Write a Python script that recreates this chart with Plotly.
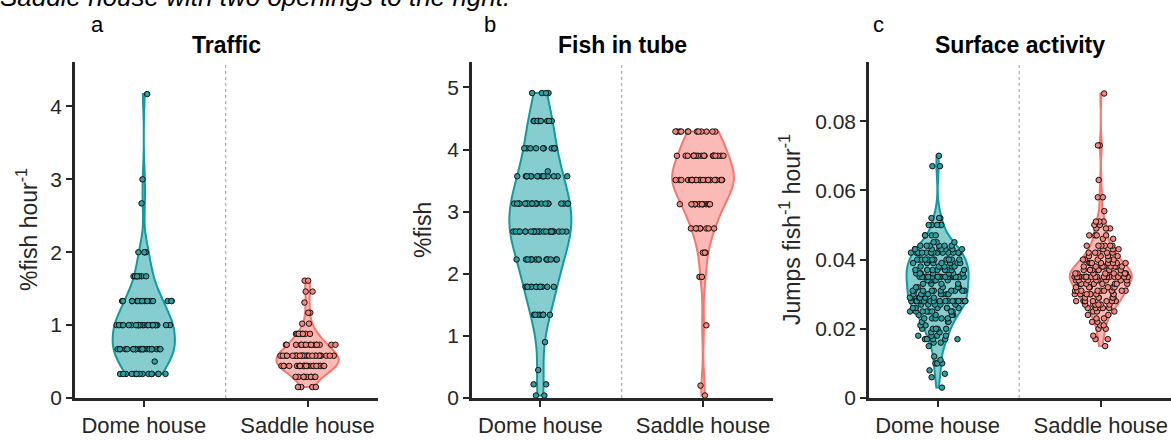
import numpy as np
import plotly.graph_objects as go

categories = ["Dome house", "Saddle house"]

# Traffic (%fish hour^-1): levels and counts
traffic_dome_levels = [0.33, 0.50, 0.67, 1.00, 1.33, 1.67, 2.00, 2.67, 3.00, 4.17]
traffic_dome_counts = [15, 1, 25, 24, 15, 7, 4, 1, 1, 1]
traffic_saddle_levels = [0.15, 0.29, 0.44, 0.58, 0.73, 0.88, 1.02, 1.17, 1.31, 1.46, 1.61]
traffic_saddle_counts = [4, 10, 25, 25, 15, 8, 2, 2, 1, 2, 2]

# Fish in tube (%fish)
tube_dome_levels = [0.04, 0.22, 0.45, 0.90, 1.34, 1.79, 2.23, 2.68, 3.13, 3.57, 3.65, 4.02, 4.46, 4.91]
tube_dome_counts = [2, 2, 1, 1, 7, 12, 15, 25, 22, 15, 1, 10, 10, 4]
tube_saddle_levels = [0.04, 0.20, 1.17, 1.95, 2.34, 2.73, 3.12, 3.51, 3.90, 4.29]
tube_saddle_counts = [1, 1, 1, 2, 3, 8, 15, 25, 18, 12]

# Surface activity (jumps fish^-1 hour^-1)
surf_dome_levels = [0.003, 0.006, 0.007, 0.008, 0.010, 0.011, 0.012, 0.015, 0.016, 0.017,
                    0.018, 0.019, 0.020, 0.021, 0.022, 0.023, 0.024, 0.025, 0.026, 0.027,
                    0.028, 0.029, 0.030, 0.031, 0.032, 0.033, 0.034, 0.035, 0.036, 0.037,
                    0.038, 0.039, 0.040, 0.042, 0.043, 0.044, 0.045, 0.047, 0.050, 0.052,
                    0.067, 0.070]
surf_dome_counts = [1, 1, 1, 1, 3, 1, 1, 1, 2, 5,
                    4, 2, 5, 2, 3, 5, 4, 8, 6, 5,
                    18, 6, 8, 10, 6, 4, 5, 20, 8, 8,
                    6, 8, 12, 15, 8, 6, 3, 4, 5, 3,
                    2, 1]
surf_saddle_levels = [0.015, 0.017, 0.018, 0.020, 0.021, 0.022, 0.023, 0.024, 0.025, 0.026,
                      0.027, 0.028, 0.029, 0.030, 0.031, 0.032, 0.033, 0.034, 0.035, 0.036,
                      0.037, 0.038, 0.039, 0.040, 0.041, 0.042, 0.043, 0.044, 0.046, 0.047,
                      0.049, 0.050, 0.051, 0.054, 0.058, 0.063, 0.073, 0.088]
surf_saddle_counts = [1, 2, 1, 2, 2, 2, 2, 2, 3, 5,
                      6, 8, 6, 8, 10, 6, 8, 8, 20, 10,
                      8, 10, 8, 6, 4, 5, 3, 6, 2, 4,
                      3, 2, 3, 1, 2, 1, 2, 1]

panels = [
    ("Traffic", "%fish hour<sup>-1</sup>", "a",
     (traffic_dome_levels, traffic_dome_counts), (traffic_saddle_levels, traffic_saddle_counts),
     [0, 4.61], 1, (0.2, 0.11)),
    ("Fish in tube", "%fish", "b",
     (tube_dome_levels, tube_dome_counts), (tube_saddle_levels, tube_saddle_counts),
     [0, 5.41], 1, (None, None)),
    ("Surface activity", "Jumps fish<sup>-1</sup> hour<sup>-1</sup>", "c",
     (surf_dome_levels, surf_dome_counts), (surf_saddle_levels, surf_saddle_counts),
     [0, 0.0971], 0.02, (None, None)),
]

W, H = 1171, 440
x_px = [(75, 378), (472, 773), (869, 1171)]
ylab_px = [27, 423, 790]
letter_px = [97, 490, 878]

dome_line = "#0e9ca0"
dome_fill = "rgba(14,156,160,0.5)"
dome_pt = "#2aa0a3"
sad_line = "#f8766d"
sad_fill = "rgba(248,118,109,0.5)"
sad_pt = "#f4877d"
axcol = "#262626"
FONT = "Liberation Sans, Arial, sans-serif"

fig = go.Figure()
annotations = []
shapes = []

for i, (title, ylab, letter, dome, sad, yr, dt, bws) in enumerate(panels):
    sfx = "" if i == 0 else str(i + 1)
    xa, ya = "x" + sfx, "y" + sfx
    for (lv, ct), name, lc, fc, pc, bw in [(dome, categories[0], dome_line, dome_fill, dome_pt, bws[0]),
                                           (sad, categories[1], sad_line, sad_fill, sad_pt, bws[1])]:
        vals = np.repeat(np.array(lv), np.array(ct))
        kw = {}
        if bw is not None:
            kw["bandwidth"] = bw
        fig.add_trace(go.Violin(
            x=[name] * len(vals), y=vals, xaxis=xa, yaxis=ya,
            points="all", pointpos=0, jitter=0.9, width=0.38,
            spanmode="hard", line=dict(color=lc, width=2), fillcolor=fc,
            marker=dict(color=pc, size=5.5, line=dict(color="#111111", width=1)),
            meanline_visible=False, box_visible=False, showlegend=False,
            hoverinfo="skip", **kw))
    x0, x1 = x_px[i]
    dom = [x0 / W, x1 / W]
    axkw = dict(domain=dom, type="category", categoryorder="array", categoryarray=categories,
                range=[-0.42, 1.43], showline=True, linecolor=axcol, linewidth=2.5,
                ticks="outside", ticklen=6, tickwidth=2, tickcolor=axcol,
                tickfont=dict(size=22, color=axcol, family=FONT), showgrid=False,
                zeroline=False, anchor=ya)
    ykw = dict(domain=[0, 1], range=yr, dtick=dt, tick0=0, showline=True, linecolor=axcol,
               linewidth=2.5, ticks="outside", ticklen=6, tickwidth=2, tickcolor=axcol,
               tickfont=dict(size=21, color=axcol, family=FONT), showgrid=False,
               zeroline=False, anchor=xa)
    fig.update_layout(**{("xaxis" + sfx): axkw, ("yaxis" + sfx): ykw})
    shapes.append(dict(type="line", xref=xa, yref=ya + " domain", x0=0.5, x1=0.5, y0=0, y1=1,
                       line=dict(color="#aaaaaa", width=1.2, dash="dot")))
    annotations.append(dict(text="<b>" + title + "</b>", xref="paper", yref="paper",
                            x=(dom[0] + dom[1]) / 2, y=1 + 17 / 336, xanchor="center",
                            yanchor="middle", showarrow=False,
                            font=dict(size=23, color="black", family=FONT)))
    annotations.append(dict(text=letter, xref="paper", yref="paper",
                            x=letter_px[i] / W, y=1 + 37 / 336, xanchor="center",
                            yanchor="middle", showarrow=False,
                            font=dict(size=22, color="black", family=FONT)))
    annotations.append(dict(text=ylab, xref="paper", yref="paper",
                            x=ylab_px[i] / W, y=0.5, xanchor="center", yanchor="middle",
                            textangle=-90, showarrow=False,
                            font=dict(size=23, color=axcol, family=FONT)))

annotations.append(dict(text="<i>Saddle house with two openings to the right.</i>",
                        xref="paper", yref="paper", x=512 / W, y=1 + 65 / 336,
                        xanchor="right", yanchor="middle", showarrow=False,
                        font=dict(size=26, color="black", family=FONT)))

fig.update_layout(width=W, height=H, margin=dict(l=0, r=0, t=62, b=42),
                  plot_bgcolor="white", paper_bgcolor="white",
                  annotations=annotations, shapes=shapes, violingap=0, violinmode="overlay")

fig.write_html("out.html")
